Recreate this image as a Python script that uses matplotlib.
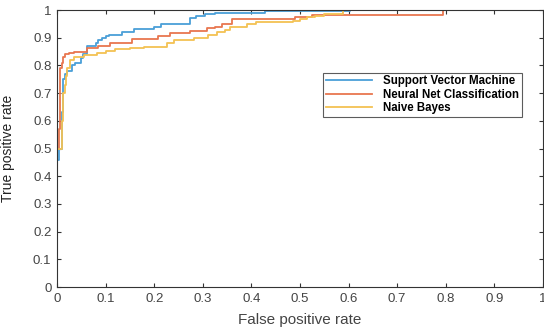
import numpy as np
import matplotlib.pyplot as plt

# ROC points (false positive rate, true positive rate)
svm_fpr = [0, 0, 0.005, 0.01, 0.012, 0.016, 0.02, 0.03, 0.037, 0.05, 0.053, 0.062,
           0.081, 0.085, 0.092, 0.1, 0.107, 0.134, 0.158, 0.2, 0.215, 0.274, 0.287,
           0.305, 0.325, 0.428, 0.603, 1.0]
svm_tpr = [0, 0.46, 0.5, 0.63, 0.75, 0.77, 0.78, 0.80, 0.81, 0.825, 0.84, 0.87,
           0.88, 0.89, 0.90, 0.905, 0.91, 0.92, 0.93, 0.94, 0.95, 0.97, 0.98,
           0.985, 0.99, 0.995, 1.0, 1.0]

nn_fpr = [0, 0, 0.004, 0.007, 0.0105, 0.013, 0.016, 0.025, 0.034, 0.061, 0.085,
          0.109, 0.154, 0.208, 0.233, 0.274, 0.308, 0.325, 0.339, 0.36, 0.49,
          0.524, 0.795, 1.0]
nn_tpr = [0, 0.5, 0.57, 0.79, 0.81, 0.83, 0.84, 0.845, 0.85, 0.862, 0.871,
          0.88, 0.894, 0.905, 0.916, 0.925, 0.934, 0.94, 0.95, 0.966, 0.974,
          0.982, 1.0, 1.0]

nb_fpr = [0, 0, 0.01, 0.013, 0.016, 0.018, 0.02, 0.027, 0.034, 0.055, 0.083, 0.1,
          0.119, 0.15, 0.18, 0.226, 0.24, 0.281, 0.31, 0.329, 0.346, 0.356, 0.39,
          0.41, 0.486, 0.5, 0.514, 0.53, 0.55, 0.589, 1.0]
nb_tpr = [0, 0.5, 0.6, 0.7, 0.73, 0.76, 0.79, 0.82, 0.83, 0.837, 0.846, 0.852,
          0.859, 0.863, 0.867, 0.88, 0.89, 0.898, 0.91, 0.922, 0.928, 0.937, 0.948,
          0.955, 0.96, 0.967, 0.974, 0.978, 0.985, 1.0, 1.0]

labels = ["Support Vector Machine", "Neural Net Classification", "Naive Bayes"]
colors = ["#4a9fd8", "#e8764f", "#f3c253"]

plt.rcParams['font.family'] = ['Liberation Sans', 'DejaVu Sans']

fig = plt.figure(figsize=(5.44, 3.27), dpi=100)
ax = fig.add_axes([0.1048, 0.1223, 0.8932, 0.8471])

curves = [(svm_fpr, svm_tpr), (nn_fpr, nn_tpr), (nb_fpr, nb_tpr)]
for (x, y), lab, c in zip(curves, labels, colors):
    ax.plot(x, y, drawstyle='steps-post', color=c, lw=1.3, label=lab)

ax.set_xlim(0, 1)
ax.set_ylim(0, 1)
ticks = np.round(np.arange(0, 1.01, 0.1), 1)
tick_labels = ["0"] + [f"{t:.1f}" for t in ticks[1:-1]] + ["1"]
ax.set_xticks(ticks)
ax.set_xticklabels(tick_labels)
ax.set_yticks(ticks)
ax.set_yticklabels(tick_labels)
ax.tick_params(direction='in', length=3, width=0.8, top=True, right=True,
               labelsize=9.5, colors='#333333', labelcolor='#444444', pad=4)
for s in ax.spines.values():
    s.set_color('#333333')
    s.set_linewidth(0.8)

ax.set_xlabel("False positive rate", fontsize=11, color='#444444')
ax.xaxis.set_label_coords(0.5, -0.095)
ax.set_ylabel("True positive rate", fontsize=10, color='#222222')
ax.yaxis.set_label_coords(-0.086, 0.5)

leg = ax.legend(loc='upper left', bbox_to_anchor=(0.535, 0.795), frameon=True,
                fancybox=False, edgecolor='#333333',
                prop={'weight': 'bold', 'size': 8.3}, handlelength=4.0,
                borderpad=0.25, labelspacing=0.1, handletextpad=1.0)
leg.get_frame().set_linewidth(0.8)

fig.savefig("out.png", dpi=100)
